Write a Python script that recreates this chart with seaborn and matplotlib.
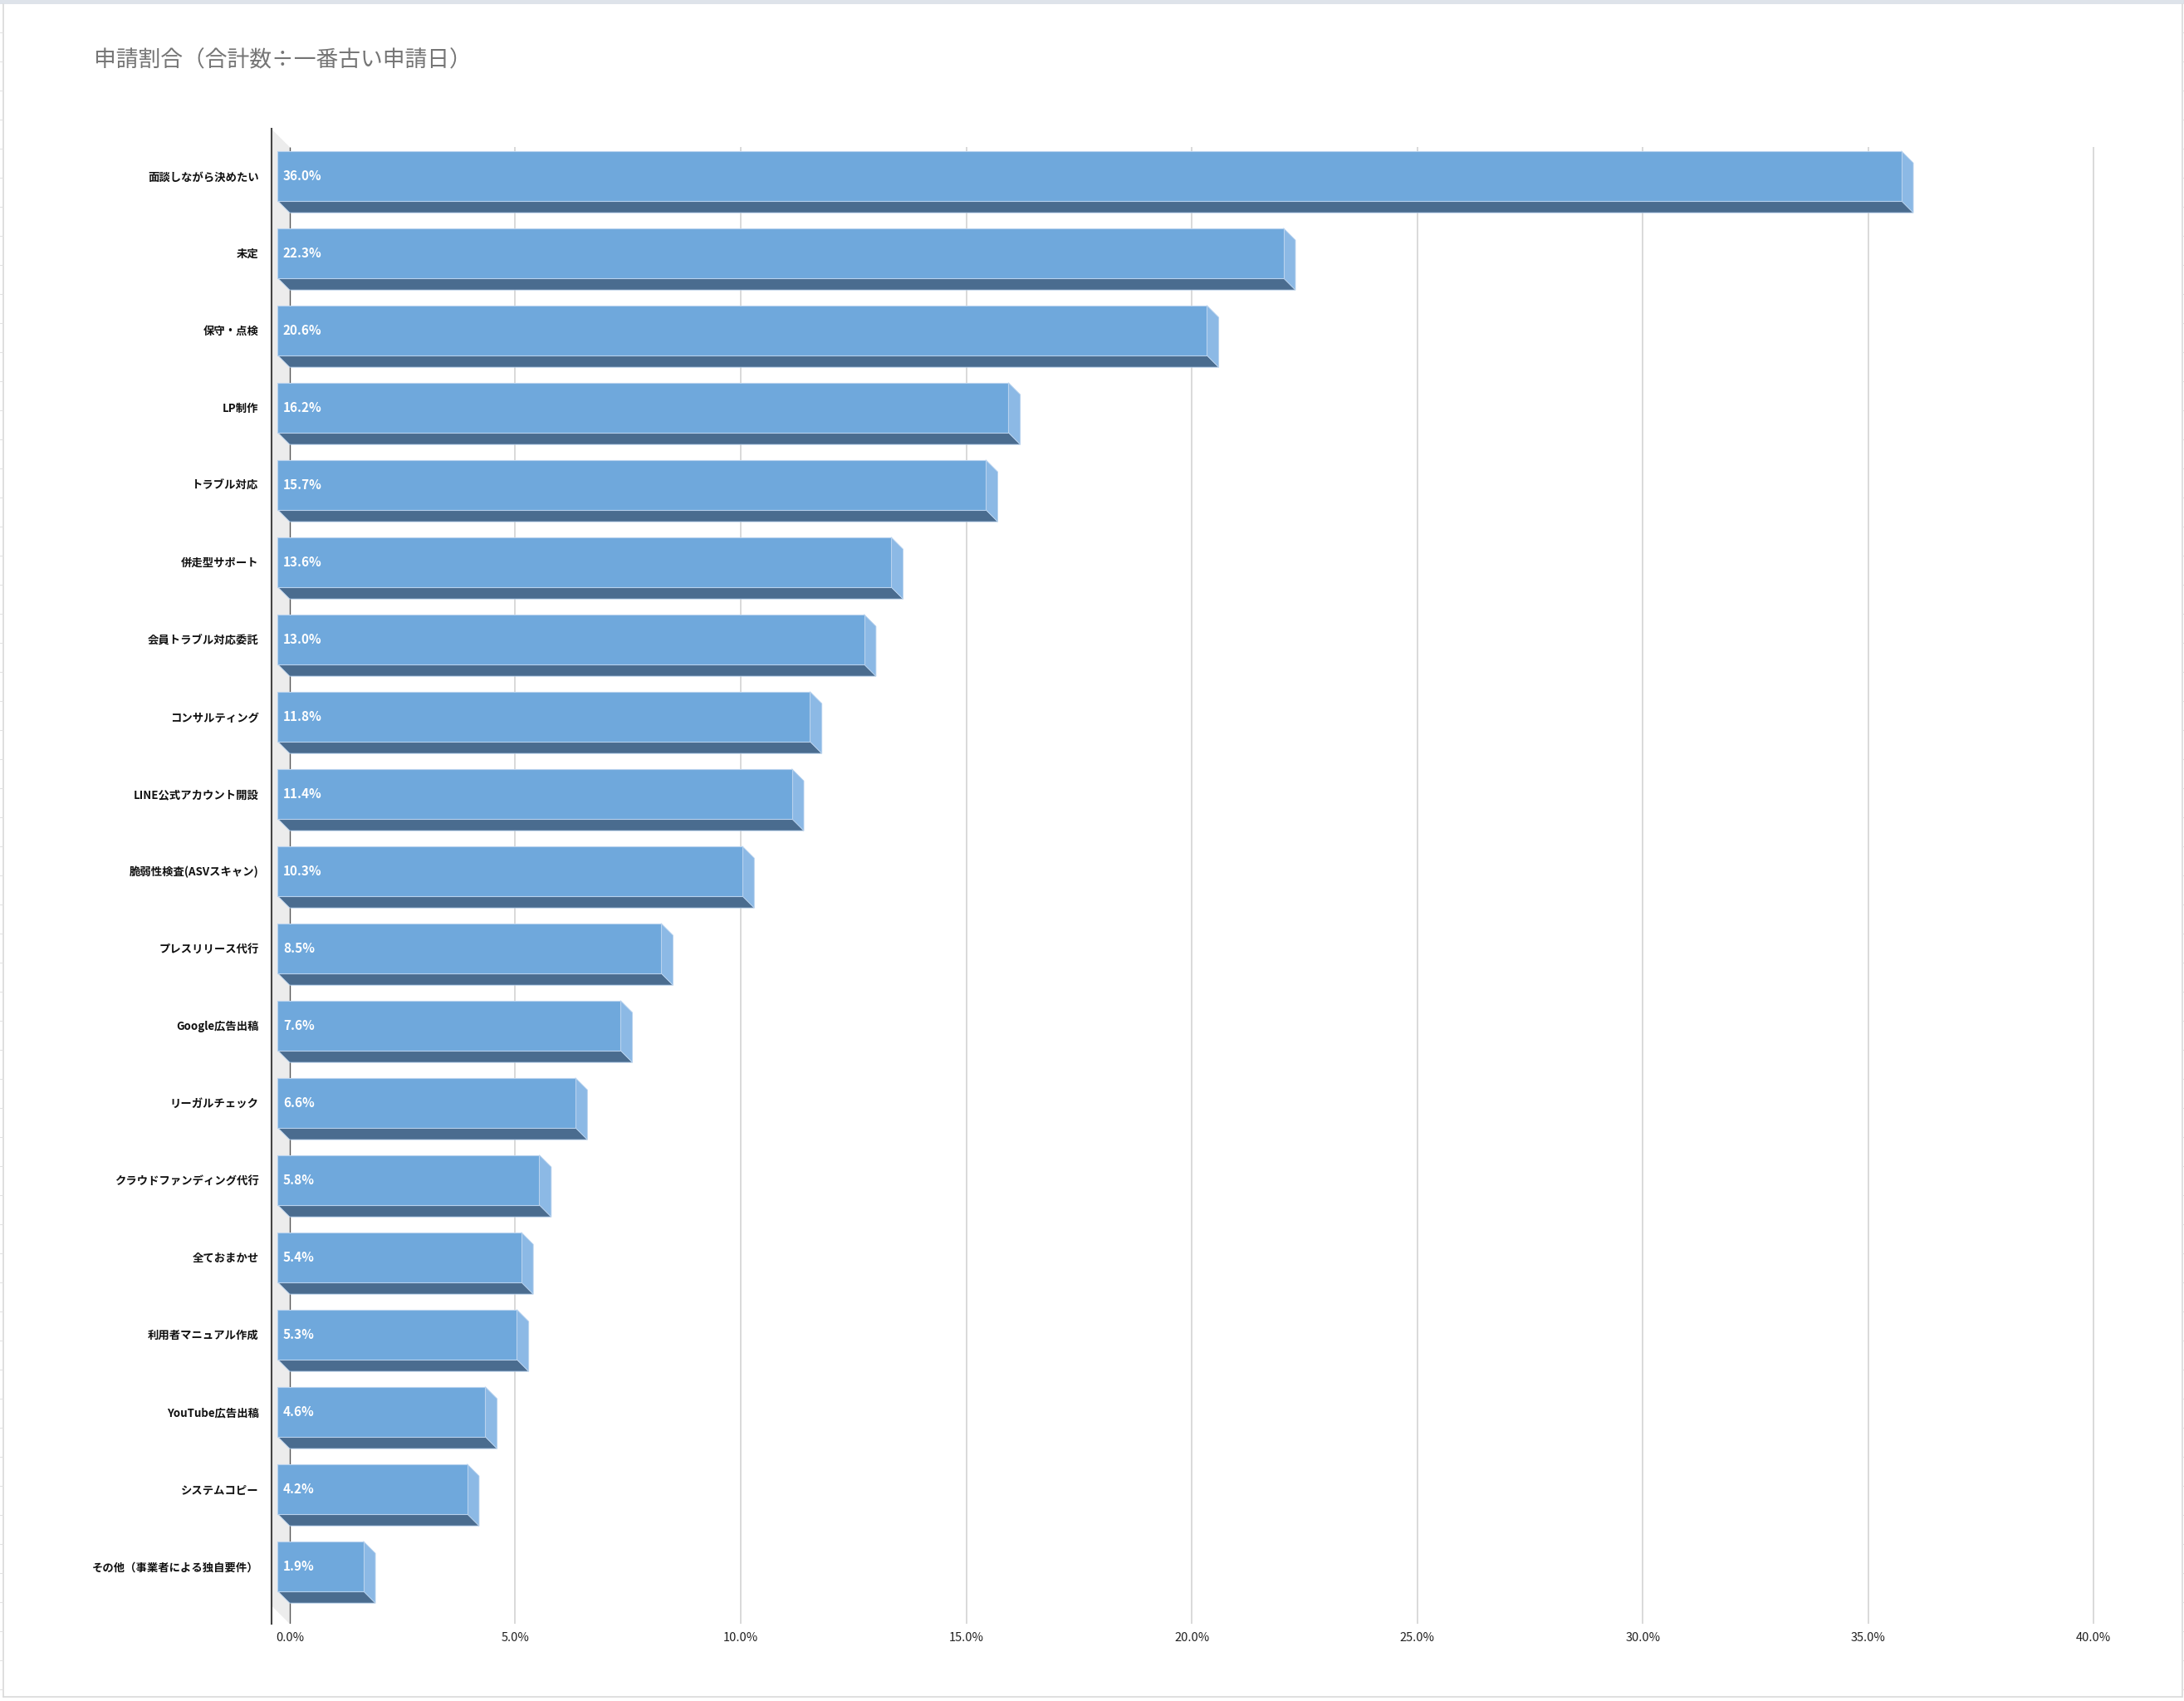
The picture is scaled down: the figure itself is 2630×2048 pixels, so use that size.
import numpy as np
import matplotlib
matplotlib.use("Agg")
import matplotlib.pyplot as plt
import matplotlib.transforms as mtransforms
from matplotlib.patches import Polygon, Rectangle
from matplotlib.lines import Line2D
from matplotlib.ticker import MultipleLocator, FuncFormatter
import seaborn as sns

# data
title = "申請割合（合計数÷一番古い申請日）"
categories = [
    "面談しながら決めたい",
    "未定",
    "保守・点検",
    "LP制作",
    "トラブル対応",
    "併走型サポート",
    "会員トラブル対応委託",
    "コンサルティング",
    "LINE公式アカウント開設",
    "脆弱性検査(ASVスキャン)",
    "プレスリリース代行",
    "Google広告出稿",
    "リーガルチェック",
    "クラウドファンディング代行",
    "全ておまかせ",
    "利用者マニュアル作成",
    "YouTube広告出稿",
    "システムコピー",
    "その他（事業者による独自要件）",
]
values = [36.0, 22.3, 20.6, 16.2, 15.7, 13.6, 13.0, 11.8, 11.4, 10.3,
          8.5, 7.6, 6.6, 5.8, 5.4, 5.3, 4.6, 4.2, 1.9]

# colours
FRONT = "#6fa8dc"
SIDE = "#8cb9e5"
BOTTOM = "#4a6c8f"
EDGE = "#b8d2ee"
WALL = "#ececec"
GRID = "#d9d9d9"

sns.set_style("white")
plt.rcParams["font.family"] = ["Noto Sans CJK JP", "DejaVu Sans"]

W, H = 2630, 2048
fig = plt.figure(figsize=(W / 100, H / 100), dpi=100)
fig.patch.set_facecolor("white")
ax = fig.add_axes([326.6 / W, 1 - 1955 / H, (2543 - 326.6) / W, 1800 / H])

sns.barplot(x=values, y=categories, orient="h", color=FRONT, saturation=1,
            width=0.645, edgecolor=EDGE, linewidth=0.8, ax=ax, zorder=3)

x_left, x_right = -0.41, 40.4
y_top, y_bot = -0.61, 18.745
ax.set_xlim(x_left, x_right)
ax.set_ylim(y_bot, y_top)

# 3d depth of bars (x in %, y in category units)
dx, dy = 0.265, 0.155
shift = mtransforms.Affine2D().translate(-dx, 0) + ax.transData
bars = list(ax.patches)
for p, v in zip(bars, values):
    x0, w = p.get_x(), p.get_width()
    y0, h = p.get_y(), p.get_height()
    y1 = y0 + h
    p.set_transform(shift)
    ax.add_patch(Polygon([(x0 - dx, y1), (x0 + w - dx, y1), (x0 + w, y1 + dy), (x0, y1 + dy)],
                         closed=True, facecolor=BOTTOM, edgecolor=EDGE, linewidth=0.6, zorder=2.9))
    ax.add_patch(Polygon([(x0 + w - dx, y0), (x0 + w, y0 + dy), (x0 + w, y1 + dy), (x0 + w - dx, y1)],
                         closed=True, facecolor=SIDE, edgecolor=EDGE, linewidth=0.6, zorder=2.9))
    ax.annotate(f"{v:.1f}%", xy=(x0 - dx, y0 + h / 2), xytext=(6.5, 0),
                textcoords="offset pixels", ha="left", va="center",
                color="white", fontsize=11, fontweight="bold", zorder=4)

# left wall of the 3d box
wall_dy = 0.237
ax.add_patch(Polygon([(x_left, y_top), (0, y_top + wall_dy), (0, y_bot), (x_left, y_bot - wall_dy)],
                     closed=True, facecolor=WALL, edgecolor="none", zorder=0.5))

ax.xaxis.set_major_locator(MultipleLocator(5))
ax.xaxis.set_major_formatter(FuncFormatter(lambda x, pos: f"{x:.1f}%"))
ticks = [t for t in ax.get_xticks() if 0 < t <= 40]
ax.vlines(ticks, y_top + wall_dy, y_bot, color=GRID, linewidth=1.4, zorder=0.6)
ax.vlines([0], y_top + wall_dy, y_bot, color="#555555", linewidth=1.0, zorder=0.7)

for side in ["top", "right", "bottom"]:
    ax.spines[side].set_visible(False)
ax.spines["left"].set_color("#444444")
ax.spines["left"].set_linewidth(1.5)

ax.tick_params(axis="x", length=0, pad=7, labelsize=10.5, labelcolor="#222222")
ax.tick_params(axis="y", direction="inout", length=11, width=1.3, color="#a0587c",
               pad=5.3, labelsize=9.6, labelcolor="#111111")
for lbl in ax.get_yticklabels():
    lbl.set_fontweight("bold")
ax.set_xlabel("")
ax.set_ylabel("")

fig.text(113 / W, 1 - 73 / H, title, ha="left", va="center", fontsize=19.3, color="#757575")

# sheet frame around the chart
fig.add_artist(Rectangle((0, 1 - 5 / H), 1, 5 / H, transform=fig.transFigure,
                         facecolor="#dee3ea", edgecolor="none"))
fig.add_artist(Line2D([4 / W, 4 / W], [1 - 2043 / H, 1 - 5 / H], transform=fig.transFigure,
                      color="#d9d9d9", linewidth=1.2))
fig.add_artist(Line2D([2627.5 / W, 2627.5 / W], [1 - 2043 / H, 1 - 5 / H], transform=fig.transFigure,
                      color="#d9d9d9", linewidth=1.2))
fig.add_artist(Line2D([4 / W, 2627.5 / W], [1 - 2043 / H, 1 - 2043 / H], transform=fig.transFigure,
                      color="#d9d9d9", linewidth=1.2))
for yy in np.arange(2034, 5, -35):
    fig.add_artist(Line2D([0, 4 / W], [1 - yy / H, 1 - yy / H], transform=fig.transFigure,
                          color="#e2e2e2", linewidth=0.8))
    fig.add_artist(Line2D([2627.5 / W, 1], [1 - yy / H, 1 - yy / H], transform=fig.transFigure,
                          color="#e2e2e2", linewidth=0.8))

fig.savefig("out.png", dpi=100)
